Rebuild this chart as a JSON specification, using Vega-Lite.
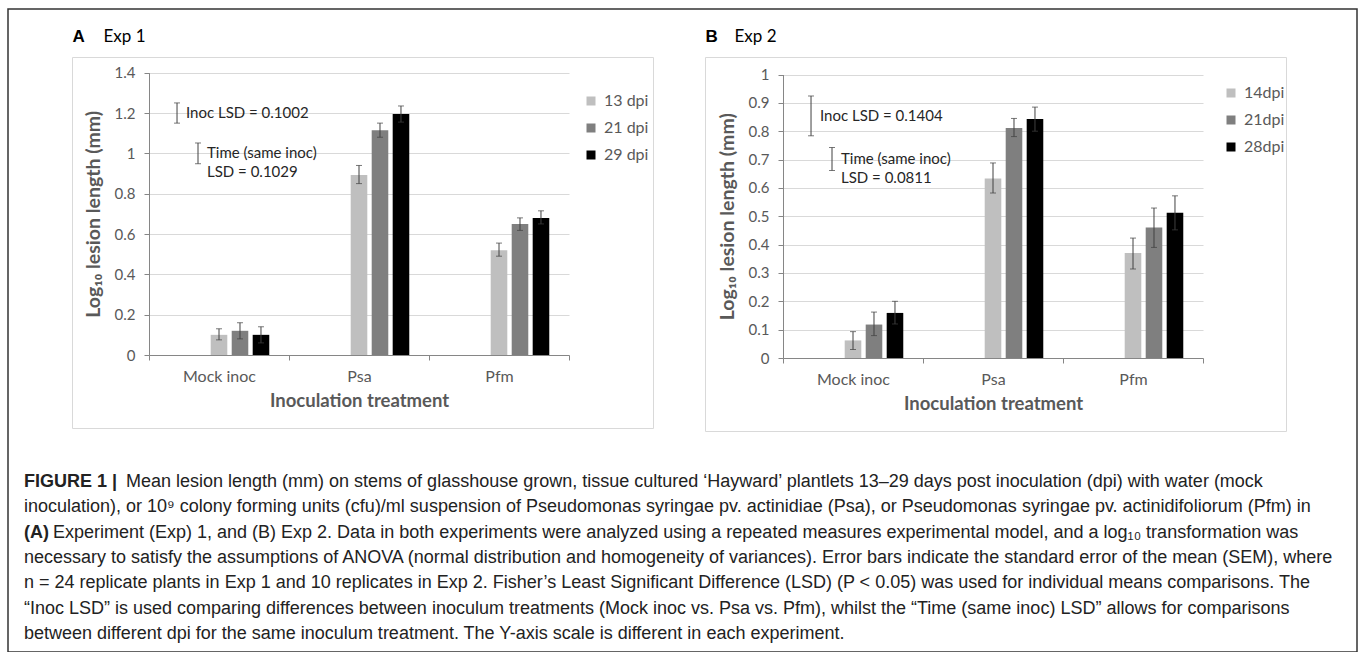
{
  "$schema": "https://vega.github.io/schema/vega-lite/v6.json",
  "width": 1349,
  "height": 643,
  "autosize": {"type": "none"},
  "padding": {"left": 8, "top": 9, "right": 1, "bottom": 0},
  "background": "white",
  "config": {
    "view": {"stroke": "#333333", "strokeWidth": 1.5},
    "font": "Lato",
    "axis": {
      "labelFont": "Lato", "labelColor": "#595959", "labelFontSize": 15,
      "titleFont": "Lato", "titleColor": "#595959", "titleFontWeight": "bold", "titleFontSize": 18.5,
      "domainColor": "#868686", "tickColor": "#868686", "gridColor": "#d9d9d9", "tickSize": 5
    },
    "legend": {"labelFont": "Lato", "labelColor": "#595959", "labelFontSize": 16}
  },
  "datasets": {
    "expA": [
      {"cat": "Mock inoc", "series": "13 dpi", "kind": "bar", "mean": 0.10, "lo": 0.075, "hi": 0.13},
      {"cat": "Mock inoc", "series": "21 dpi", "kind": "bar", "mean": 0.12, "lo": 0.08, "hi": 0.16},
      {"cat": "Mock inoc", "series": "29 dpi", "kind": "bar", "mean": 0.10, "lo": 0.06, "hi": 0.14},
      {"cat": "Psa", "series": "13 dpi", "kind": "bar", "mean": 0.893, "lo": 0.85, "hi": 0.94},
      {"cat": "Psa", "series": "21 dpi", "kind": "bar", "mean": 1.115, "lo": 1.08, "hi": 1.15},
      {"cat": "Psa", "series": "29 dpi", "kind": "bar", "mean": 1.195, "lo": 1.155, "hi": 1.235},
      {"cat": "Pfm", "series": "13 dpi", "kind": "bar", "mean": 0.52, "lo": 0.49, "hi": 0.555},
      {"cat": "Pfm", "series": "21 dpi", "kind": "bar", "mean": 0.65, "lo": 0.618, "hi": 0.68},
      {"cat": "Pfm", "series": "29 dpi", "kind": "bar", "mean": 0.68, "lo": 0.65, "hi": 0.715},
      {"cat": "Mock inoc", "series": "s1", "kind": "lsd", "mid": 1.2, "lo": 1.1499, "hi": 1.2501, "label": "Inoc LSD = 0.1002"},
      {"cat": "Mock inoc", "series": "s2", "kind": "lsd", "mid": 1.0, "lo": 0.94855, "hi": 1.05145, "label": "Time (same inoc)\nLSD = 0.1029"}
    ],
    "expB": [
      {"cat": "Mock inoc", "series": "14dpi", "kind": "bar", "mean": 0.062, "lo": 0.03, "hi": 0.093},
      {"cat": "Mock inoc", "series": "21dpi", "kind": "bar", "mean": 0.118, "lo": 0.079, "hi": 0.162},
      {"cat": "Mock inoc", "series": "28dpi", "kind": "bar", "mean": 0.159, "lo": 0.12, "hi": 0.2},
      {"cat": "Psa", "series": "14dpi", "kind": "bar", "mean": 0.633, "lo": 0.582, "hi": 0.688},
      {"cat": "Psa", "series": "21dpi", "kind": "bar", "mean": 0.811, "lo": 0.781, "hi": 0.845},
      {"cat": "Psa", "series": "28dpi", "kind": "bar", "mean": 0.843, "lo": 0.80, "hi": 0.885},
      {"cat": "Pfm", "series": "14dpi", "kind": "bar", "mean": 0.37, "lo": 0.314, "hi": 0.423},
      {"cat": "Pfm", "series": "21dpi", "kind": "bar", "mean": 0.46, "lo": 0.39, "hi": 0.529},
      {"cat": "Pfm", "series": "28dpi", "kind": "bar", "mean": 0.512, "lo": 0.452, "hi": 0.572},
      {"cat": "Mock inoc", "series": "s1", "kind": "lsd", "mid": 0.854, "lo": 0.7838, "hi": 0.9242, "label": "Inoc LSD = 0.1404"},
      {"cat": "Mock inoc", "series": "s2", "kind": "lsd", "mid": 0.702, "lo": 0.66145, "hi": 0.74255, "label": "Time (same inoc)\nLSD = 0.0811"}
    ],
    "caption": [
      {"line": 1, "part": "bold", "text": "FIGURE 1 |"},
      {"line": 1, "part": "lead1", "text": "Mean lesion length (mm) on stems of glasshouse grown, tissue cultured ‘Hayward’ plantlets 13–29 days post inoculation (dpi) with water (mock"},
      {"line": 2, "part": "body", "text": "inoculation), or 10⁹ colony forming units (cfu)/ml suspension of Pseudomonas syringae pv. actinidiae (Psa), or Pseudomonas syringae pv. actinidifoliorum (Pfm) in"},
      {"line": 3, "part": "bold", "text": "(A)"},
      {"line": 3, "part": "lead3", "text": "Experiment (Exp) 1, and (B) Exp 2. Data in both experiments were analyzed using a repeated measures experimental model, and a log₁₀ transformation was"},
      {"line": 4, "part": "body", "text": "necessary to satisfy the assumptions of ANOVA (normal distribution and homogeneity of variances). Error bars indicate the standard error of the mean (SEM), where"},
      {"line": 5, "part": "body", "text": "n = 24 replicate plants in Exp 1 and 10 replicates in Exp 2. Fisher’s Least Significant Difference (LSD) (P < 0.05) was used for individual means comparisons. The"},
      {"line": 6, "part": "body", "text": "“Inoc LSD” is used comparing differences between inoculum treatments (Mock inoc vs. Psa vs. Pfm), whilst the “Time (same inoc) LSD” allows for comparisons"},
      {"line": 7, "part": "body", "text": "between different dpi for the same inoculum treatment. The Y-axis scale is different in each experiment."}
    ]
  },
  "layer": [
    {
      "data": {"values": [{"letter": "A", "exp": "Exp 1"}]},
      "encoding": {
        "x": {"datum": 0, "type": "quantitative", "scale": {"domain": [0, 1], "range": [64.5, 645.5]}, "axis": null},
        "y": {"datum": 0, "type": "quantitative", "scale": {"domain": [0, 1], "range": [419.5, 48.5]}, "axis": null}
      },
      "layer": [
        {"mark": {"type": "rect", "filled": false, "stroke": "#d9d9d9", "strokeWidth": 1},
         "encoding": {"x2": {"datum": 1}, "y2": {"datum": 1}}},
        {"mark": {"type": "text", "align": "left", "baseline": "middle", "dy": -21, "font": "Liberation Sans", "fontWeight": "bold", "fontSize": 17, "color": "#000000"},
         "encoding": {"y": {"datum": 1, "type": "quantitative"}, "text": {"field": "letter"}}},
        {"mark": {"type": "text", "align": "left", "baseline": "middle", "dy": -21, "dx": 31, "font": "Lato", "fontSize": 17, "color": "#000000"},
         "encoding": {"y": {"datum": 1, "type": "quantitative"}, "text": {"field": "exp"}}}
      ]
    },
    {
      "data": {"values": [{"letter": "B", "exp": "Exp 2"}]},
      "encoding": {
        "x": {"datum": 0, "type": "quantitative", "scale": {"domain": [0, 1], "range": [697.5, 1278.5]}, "axis": null},
        "y": {"datum": 0, "type": "quantitative", "scale": {"domain": [0, 1], "range": [422.5, 48.5]}, "axis": null}
      },
      "layer": [
        {"mark": {"type": "rect", "filled": false, "stroke": "#d9d9d9", "strokeWidth": 1},
         "encoding": {"x2": {"datum": 1}, "y2": {"datum": 1}}},
        {"mark": {"type": "text", "align": "left", "baseline": "middle", "dy": -21, "font": "Liberation Sans", "fontWeight": "bold", "fontSize": 17, "color": "#000000"},
         "encoding": {"y": {"datum": 1, "type": "quantitative"}, "text": {"field": "letter"}}},
        {"mark": {"type": "text", "align": "left", "baseline": "middle", "dy": -21, "dx": 29, "font": "Lato", "fontSize": 17, "color": "#000000"},
         "encoding": {"y": {"datum": 1, "type": "quantitative"}, "text": {"field": "exp"}}}
      ]
    },
    {
      "data": {"name": "expA"},
      "encoding": {
        "x": {"field": "cat", "type": "nominal",
              "scale": {"domain": ["Mock inoc", "Psa", "Pfm"], "range": [141, 561], "paddingInner": 0, "paddingOuter": 0},
              "axis": {"orient": "bottom", "offset": -297, "title": "Inoculation treatment", "tickBand": "extent", "labelAngle": 0, "labelFontSize": 16, "labelPadding": 8, "titlePadding": 7, "grid": false}},
        "xOffset": {"field": "series", "type": "nominal",
                    "scale": {"domain": ["s1", "s2", "13 dpi", "21 dpi", "29 dpi"], "paddingInner": 0.21, "paddingOuter": 0.94}}
      },
      "layer": [
        {"transform": [{"filter": "datum.kind === 'bar'"}],
         "mark": {"type": "bar"},
         "encoding": {
           "y": {"field": "mean", "type": "quantitative",
                 "scale": {"domain": [0, 1.4], "range": [346, 63.7], "nice": false},
                 "axis": {"orient": "left", "offset": -141, "title": "Log₁₀ lesion length (mm)", "titleFontSize": 19.5, "values": [0, 0.2, 0.4, 0.6, 0.8, 1, 1.2, 1.4], "format": "~g", "grid": true, "labelPadding": 9, "titlePadding": 11}},
           "color": {"field": "series", "type": "nominal",
                     "scale": {"domain": ["13 dpi", "21 dpi", "29 dpi"], "range": ["#bfbfbf", "#7f7f7f", "#000000"]},
                     "legend": {"orient": "none", "legendX": 575, "legendY": 84, "title": null, "symbolType": "square", "symbolSize": 81, "symbolStrokeWidth": 0, "labelOffset": 5, "rowPadding": 11, "padding": 0}}
         }},
        {"mark": {"type": "rule", "color": "#404040", "strokeWidth": 1},
         "encoding": {"y": {"field": "lo", "type": "quantitative"}, "y2": {"field": "hi"}}},
        {"mark": {"type": "tick", "color": "#404040", "thickness": 1, "size": 6},
         "encoding": {"y": {"field": "lo", "type": "quantitative"}}},
        {"mark": {"type": "tick", "color": "#404040", "thickness": 1, "size": 6},
         "encoding": {"y": {"field": "hi", "type": "quantitative"}}},
        {"transform": [{"filter": "datum.kind === 'lsd'"}],
         "mark": {"type": "text", "align": "left", "baseline": "middle", "dx": 9, "font": "Lato", "fontSize": 15, "color": "#262626", "lineBreak": "\n", "lineHeight": 19},
         "encoding": {"y": {"field": "mid", "type": "quantitative"}, "text": {"field": "label"}}}
      ]
    },
    {
      "data": {"name": "expB"},
      "encoding": {
        "x": {"field": "cat", "type": "nominal",
              "scale": {"domain": ["Mock inoc", "Psa", "Pfm"], "range": [775, 1195], "paddingInner": 0, "paddingOuter": 0},
              "axis": {"orient": "bottom", "offset": -294, "title": "Inoculation treatment", "tickBand": "extent", "labelAngle": 0, "labelFontSize": 16, "labelPadding": 8, "titlePadding": 7, "grid": false}},
        "xOffset": {"field": "series", "type": "nominal",
                    "scale": {"domain": ["s1", "s2", "14dpi", "21dpi", "28dpi"], "paddingInner": 0.21, "paddingOuter": 0.94}}
      },
      "layer": [
        {"transform": [{"filter": "datum.kind === 'bar'"}],
         "mark": {"type": "bar"},
         "encoding": {
           "y": {"field": "mean", "type": "quantitative",
                 "scale": {"domain": [0, 1], "range": [349, 65.5], "nice": false},
                 "axis": {"orient": "left", "offset": -775, "title": "Log₁₀ lesion length (mm)", "titleFontSize": 19.5, "values": [0, 0.1, 0.2, 0.3, 0.4, 0.5, 0.6, 0.7, 0.8, 0.9, 1], "format": "~g", "grid": true, "labelPadding": 9, "titlePadding": 11}},
           "color": {"field": "series", "type": "nominal",
                     "scale": {"domain": ["14dpi", "21dpi", "28dpi"], "range": ["#bfbfbf", "#7f7f7f", "#000000"]},
                     "legend": {"orient": "none", "legendX": 1215, "legendY": 76, "title": null, "symbolType": "square", "symbolSize": 81, "symbolStrokeWidth": 0, "labelOffset": 5, "rowPadding": 11, "padding": 0}}
         }},
        {"mark": {"type": "rule", "color": "#404040", "strokeWidth": 1},
         "encoding": {"y": {"field": "lo", "type": "quantitative"}, "y2": {"field": "hi"}}},
        {"mark": {"type": "tick", "color": "#404040", "thickness": 1, "size": 6},
         "encoding": {"y": {"field": "lo", "type": "quantitative"}}},
        {"mark": {"type": "tick", "color": "#404040", "thickness": 1, "size": 6},
         "encoding": {"y": {"field": "hi", "type": "quantitative"}}},
        {"transform": [{"filter": "datum.kind === 'lsd'"}],
         "mark": {"type": "text", "align": "left", "baseline": "middle", "dx": 9, "font": "Lato", "fontSize": 15, "color": "#262626", "lineBreak": "\n", "lineHeight": 19},
         "encoding": {"y": {"field": "mid", "type": "quantitative"}, "text": {"field": "label"}}}
      ]
    },
    {
      "data": {"name": "caption"},
      "encoding": {
        "x": {"datum": 0, "type": "quantitative", "scale": {"domain": [0, 1], "range": [16, 1340]}, "axis": null},
        "y": {"field": "line", "type": "ordinal", "scale": {"type": "point", "range": [473, 625], "padding": 0}, "axis": null},
        "text": {"field": "text"}
      },
      "layer": [
        {"transform": [{"filter": "datum.part === 'bold'"}],
         "mark": {"type": "text", "align": "left", "baseline": "middle", "font": "Liberation Sans", "fontSize": 18, "fontWeight": "bold", "color": "#222222"}},
        {"transform": [{"filter": "datum.part === 'lead1'"}],
         "mark": {"type": "text", "align": "left", "baseline": "middle", "dx": 102, "font": "Liberation Sans", "fontSize": 18, "color": "#222222"}},
        {"transform": [{"filter": "datum.part === 'lead3'"}],
         "mark": {"type": "text", "align": "left", "baseline": "middle", "dx": 29, "font": "Liberation Sans", "fontSize": 18, "color": "#222222"}},
        {"transform": [{"filter": "datum.part === 'body'"}],
         "mark": {"type": "text", "align": "left", "baseline": "middle", "font": "Liberation Sans", "fontSize": 18, "color": "#222222"}}
      ]
    }
  ],
  "resolve": {
    "scale": {"x": "independent", "y": "independent", "color": "independent", "xOffset": "independent"},
    "axis": {"x": "independent", "y": "independent"},
    "legend": {"color": "independent"}
  }
}
